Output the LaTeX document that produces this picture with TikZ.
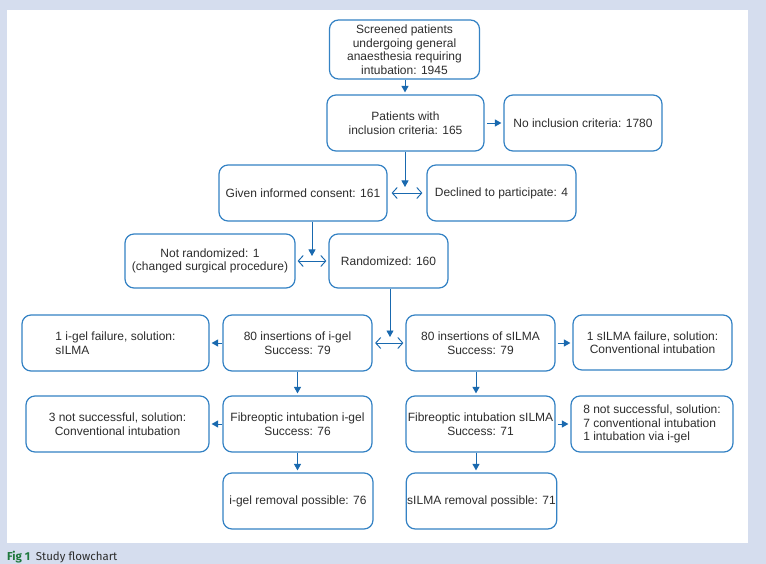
\documentclass[tikz,border=0pt]{standalone}
\usepackage{fontspec}
\setmainfont{Liberation Sans}
\newfontfamily\capfont{Fira Sans}
\usetikzlibrary{arrows.meta}
\definecolor{bandc}{RGB}{213,221,238}
\definecolor{boxc}{RGB}{52,130,196}
\definecolor{arrc}{RGB}{25,105,175}
\definecolor{txtc}{RGB}{45,45,45}
\definecolor{figc}{RGB}{30,120,60}
\tikzset{
  flowbox/.style={draw=boxc, line width=1.2pt, rounded corners=9pt, fill=white,
    text=txtc, align=center, inner sep=1pt,
    font=\fontsize{12}{13.5}\selectfont},
  leftbox/.style={flowbox, align=left},
  arr/.style={draw=arrc, line width=0.95pt, -{Triangle[length=6.5pt,width=7pt]}},
  darr/.style={draw=arrc, line width=0.95pt,
    {Straight Barb[length=5pt,width=11pt]}-{Straight Barb[length=5pt,width=11pt]}}
}
\begin{document}
\begin{tikzpicture}[x=1pt,y=-1pt]
\useasboundingbox (0,0) rectangle (766,564);
\clip (0,0) rectangle (766,564);
\fill[bandc] (0,0) rectangle (766,564);
\fill[white] (7,10) rectangle (748,543);
\node[anchor=base west, inner sep=0pt, font=\capfont\fontsize{11.5}{13}\selectfont] (cap) at (7,560)
  {\textcolor{figc}{\bfseries Fig 1}\enspace\textcolor{txtc}{Study flowchart}};

\node[flowbox, minimum width=150pt, minimum height=59pt] (s1) at (404.5,49.5)
  {Screened patients\\undergoing general\\anaesthesia requiring\\intubation: 1945};
\node[flowbox, minimum width=157pt, minimum height=56pt] (s2) at (405.5,123)
  {Patients with\\inclusion criteria: 165};
\node[flowbox, minimum width=158pt, minimum height=56pt] (s3) at (583,123)
  {No inclusion criteria: 1780};
\node[flowbox, minimum width=168pt, minimum height=56pt] (s4) at (303,193)
  {Given informed consent: 161};
\node[flowbox, minimum width=149pt, minimum height=56pt] (s5) at (501.5,193)
  {Declined to participate: 4};
\node[flowbox, minimum width=170pt, minimum height=54pt] (s6) at (210,261)
  {Not randomized: 1\\(changed surgical procedure)};
\node[flowbox, minimum width=119pt, minimum height=54pt] (s7) at (388.5,261)
  {Randomized: 160};
\node[leftbox, minimum width=187pt, minimum height=56pt] (s8) at (115.5,343)
  {1 i-gel failure, solution:\\sILMA};
\node[flowbox, minimum width=149pt, minimum height=56pt] (s9) at (297.5,343)
  {80 insertions of i-gel\\Success: 79};
\node[flowbox, minimum width=183pt, minimum height=56pt] (s10) at (117.5,424)
  {3 not successful, solution:\\Conventional intubation};
\node[flowbox, minimum width=149pt, minimum height=56pt] (s11) at (297.5,424)
  {Fibreoptic intubation i-gel\\Success: 76};
\node[flowbox, minimum width=149pt, minimum height=56pt] (s12) at (480.5,343)
  {80 insertions of sILMA\\Success: 79};
\node[flowbox, minimum width=159pt, minimum height=55pt] (s13) at (652.5,342.5)
  {1 sILMA failure, solution:\\Conventional intubation};
\node[flowbox, minimum width=149pt, minimum height=56pt] (s14) at (480.5,424)
  {Fibreoptic intubation sILMA\\Success: 71};
\node[leftbox, minimum width=162pt, minimum height=56pt] (s15) at (652,424)
  {8 not successful, solution:\\7 conventional intubation\\1 intubation via i-gel};
\node[flowbox, minimum width=150pt, minimum height=56pt] (s16) at (298,501)
  {i-gel removal possible: 76};
\node[flowbox, minimum width=149pt, minimum height=56pt] (s17) at (481.5,501)
  {sILMA removal possible: 71};

\coordinate (j1) at (405,187);
\coordinate (j2) at (312,256);
\coordinate (j3) at (390,337);

\draw[arr, shorten >=2pt] (s1.south -| j1) -- (s2.north -| j1);
\draw[arr, shorten <=2.5pt, shorten >=2pt] (s2.east) -- (s3.west);
\draw[arr] (s2.south -| j1) -- (j1);
\draw[darr, shorten <=4pt, shorten >=4pt] (s4.east) -- (s5.west);
\draw[arr] (s4.south -| j2) -- (j2);
\draw[darr, shorten <=2pt, shorten >=2pt] (s6.east) -- (s7.west);
\draw[arr] (s7.south -| j3) -- (j3);
\draw[darr, shorten <=2.5pt, shorten >=2pt] (s9.east) -- (s12.west);
\draw[arr, shorten >=2pt] (s9.west) -- (s8.east);
\draw[arr, shorten >=2pt] (s9.south) -- (s11.north);
\draw[arr, shorten >=2pt] (s11.west) -- (s10.east);
\draw[arr, shorten >=2pt] (s11.south) -- (s11.south |- s16.north);
\draw[arr, shorten <=2pt, shorten >=2pt] (s12.east) -- (s13.west |- s12.east);
\draw[arr, shorten >=2pt] (s12.south -| 476,0) -- (s14.north -| 476,0);
\draw[arr, shorten <=2pt, shorten >=2pt] (s14.east) -- (s15.west);
\draw[arr, shorten >=2pt] (s14.south -| 476,0) -- (s17.north -| 476,0);
\end{tikzpicture}
\end{document}
